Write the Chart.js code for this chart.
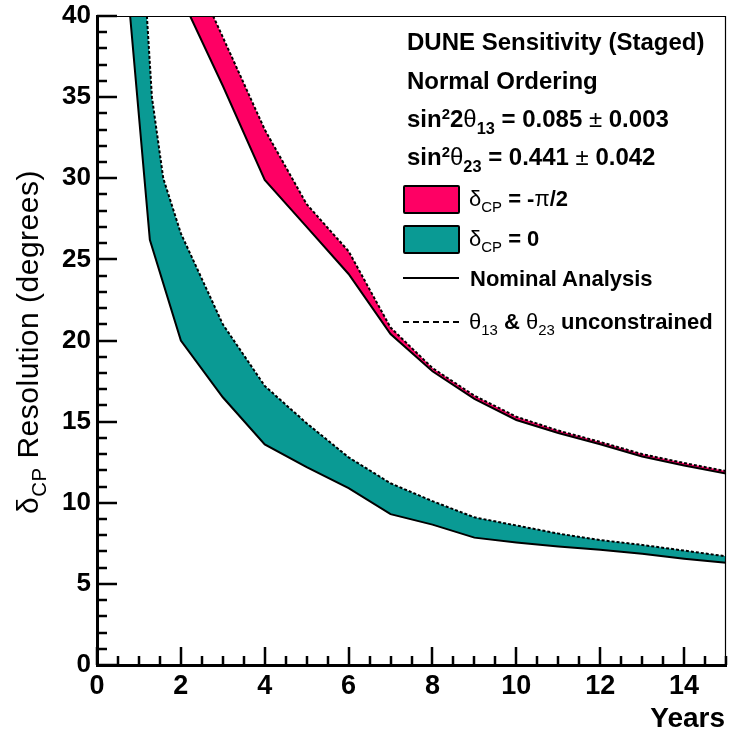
<!DOCTYPE html>
<html>
<head>
<meta charset="utf-8">
<script src="https://cdn.jsdelivr.net/npm/chart.js@4"></script>
<style>
  html, body { margin: 0; padding: 0; background: #fff; overflow: hidden; }
  #wrap { position: relative; width: 730px; height: 731px; font-family: 'Liberation Sans', Arial, sans-serif; color: #000; }
  canvas { position: absolute; left: 0; top: 0; }
  .t { position: absolute; white-space: nowrap; font-size: 24px; font-weight: bold; line-height: 28px; }
  .e { font-size: 22px; }
  .sym { font-weight: normal; }
  .sup { font-size: 0.62em; position: relative; top: -0.55em; }
  .sub { font-size: 0.68em; position: relative; top: 0.4em; }
  .box { position: absolute; border: 2.5px solid #000; border-radius: 2px; box-sizing: border-box; }
  .ln { position: absolute; height: 0; }
  #ytitle { position: absolute; left: -172px; top: 325px; width: 400px; height: 34px; line-height: 34px; text-align: center; font-size: 30px; letter-spacing: 0.5px; font-weight: normal; transform: rotate(-90deg); white-space: nowrap; }
  #xtitle { position: absolute; right: 5px; top: 702px; font-size: 28px; font-weight: bold; line-height: 32px; }
</style>
</head>
<body>
<div id="wrap">
  <canvas id="c" width="730" height="731"></canvas>
  <div id="ytitle"><span>δ</span><span class="sub">CP</span> Resolution (degrees)</div>
  <div id="xtitle">Years</div>
  <div class="t" style="left:407px; top:28px;">DUNE Sensitivity (Staged)</div>
  <div class="t" style="left:407px; top:67px;">Normal Ordering</div>
  <div class="t" style="left:407px; top:105px;">sin<span class="sup">2</span>2<span class="sym">θ</span><span class="sub">13</span> = 0.085 <span class="sym">±</span> 0.003</div>
  <div class="t" style="left:407px; top:143px;">sin<span class="sup">2</span><span class="sym">θ</span><span class="sub">23</span> = 0.441 <span class="sym">±</span> 0.042</div>
  <div class="box" style="left:403px; top:185px; width:57px; height:29px; background:#fe0064;"></div>
  <div class="t e" style="left:469px; top:185px;"><span class="sym">δ</span><span class="sub sym">CP</span> = -<span class="sym">π</span>/2</div>
  <div class="box" style="left:403px; top:225px; width:57px; height:29px; background:#0a9a94;"></div>
  <div class="t e" style="left:469px; top:225px;"><span class="sym">δ</span><span class="sub sym">CP</span> = 0</div>
  <div class="ln" style="left:403px; top:277px; width:56px; border-top:2px solid #000;"></div>
  <div class="t e" style="left:470px; top:265px;">Nominal Analysis</div>
  <div class="ln" style="left:403px; top:321px; width:56px; border-top:2px dashed #000;"></div>
  <div class="t e" style="left:469px; top:308px;"><span class="sym">θ</span><span class="sub sym">13</span> &amp; <span class="sym">θ</span><span class="sub sym">23</span> unconstrained</div>
</div>
<script>
// ---- Data (x in years, y in degrees) ----
const tealNomX = [0.79, 1.26, 2, 3, 4, 5, 6, 7, 8, 9, 10, 11, 12, 13, 14, 15];
const tealNomY = [40, 26.2, 20, 16.5, 13.6, 12.2, 10.9, 9.3, 8.65, 7.85, 7.55, 7.3, 7.1, 6.85, 6.55, 6.3];
const tealUncX = [1.19, 1.31, 1.58, 2, 3, 4, 5, 6, 7, 8, 9, 10, 11, 12, 13, 14, 15];
const tealUncY = [40, 35, 30, 26.6, 21.0, 17.2, 14.9, 12.8, 11.2, 10.1, 9.1, 8.6, 8.1, 7.7, 7.4, 7.05, 6.7];
const pinkNomX = [2.22, 3, 4, 5, 6, 7, 8, 9, 10, 11, 12, 13, 14, 15];
const pinkNomY = [40, 35.7, 29.9, 27.0, 24.1, 20.4, 18.1, 16.4, 15.1, 14.3, 13.6, 12.85, 12.3, 11.8];
const pinkUncX = [2.77, 3, 4, 5, 6, 7, 8, 9, 10, 11, 12, 13, 14, 15];
const pinkUncY = [40, 38.7, 33.0, 28.4, 25.5, 20.8, 18.3, 16.6, 15.3, 14.45, 13.75, 13.0, 12.45, 11.95];

const xTickLabels = [0, 2, 4, 6, 8, 10, 12, 14];
const yTickLabels = [0, 5, 10, 15, 20, 25, 30, 35, 40];
const xMinorStep = 0.5, yMinorStep = 1;
const xMin = 0, xMax = 15, yMin = 0, yMax = 40;

const TEAL = '#0a9a94';
const PINK = '#fe0064';

function pts(xs, ys) { return xs.map((x, i) => ({x: x, y: ys[i]})); }
function band(ax, ay, bx, by) { return pts(ax, ay).concat(pts(bx, by).reverse()); }

const FONT = "'Liberation Sans', Arial, sans-serif";

const frameTicks = {
  id: 'frameTicks',
  afterDraw(chart) {
    const {ctx, chartArea: a, scales: {x, y}} = chart;
    ctx.save();
    ctx.strokeStyle = '#000';
    ctx.lineWidth = 1.2;
    ctx.beginPath();
    ctx.moveTo(a.left, a.top + 0.5); ctx.lineTo(a.right, a.top + 0.5);
    ctx.moveTo(a.right - 0.5, a.top); ctx.lineTo(a.right - 0.5, a.bottom);
    ctx.stroke();
    ctx.lineWidth = 2.5;
    ctx.beginPath();
    for (let v = yMin; v <= yMax + 1e-9; v += yMinorStep) {
      const py = Math.round(y.getPixelForValue(v));
      const len = yTickLabels.includes(v) ? 20 : 10;
      ctx.moveTo(a.left, py); ctx.lineTo(a.left + len, py);
    }
    for (let v = xMin; v <= xMax + 1e-9; v += xMinorStep) {
      const px = Math.round(x.getPixelForValue(v));
      const len = xTickLabels.includes(v) ? 18 : 9;
      ctx.moveTo(px, a.bottom); ctx.lineTo(px, a.bottom - len);
    }
    ctx.stroke();
    ctx.restore();
  }
};

function zeroPad(s) { s.paddingTop = 0; s.paddingBottom = 0; s.paddingLeft = 0; s.paddingRight = 0; }

new Chart(document.getElementById('c'), {
  type: 'scatter',
  data: {
    datasets: [
      { label: 'tealBand', data: band(tealNomX, tealNomY, tealUncX, tealUncY), showLine: true, fill: 'shape',
        backgroundColor: TEAL, borderWidth: 0, borderColor: 'rgba(0,0,0,0)', pointRadius: 0, order: 10 },
      { label: 'pinkBand', data: band(pinkNomX, pinkNomY, pinkUncX, pinkUncY), showLine: true, fill: 'shape',
        backgroundColor: PINK, borderWidth: 0, borderColor: 'rgba(0,0,0,0)', pointRadius: 0, order: 10 },
      { label: 'tealNom', data: pts(tealNomX, tealNomY), showLine: true, fill: false, borderColor: '#000', borderWidth: 2, pointRadius: 0, order: 1 },
      { label: 'tealUnc', data: pts(tealUncX, tealUncY), showLine: true, fill: false, borderColor: '#000', borderWidth: 2, borderDash: [3, 2], pointRadius: 0, order: 1 },
      { label: 'pinkNom', data: pts(pinkNomX, pinkNomY), showLine: true, fill: false, borderColor: '#000', borderWidth: 2, pointRadius: 0, order: 1 },
      { label: 'pinkUnc', data: pts(pinkUncX, pinkUncY), showLine: true, fill: false, borderColor: '#000', borderWidth: 2, borderDash: [3, 2], pointRadius: 0, order: 1 }
    ]
  },
  options: {
    responsive: false,
    animation: false,
    events: [],
    layout: { padding: { top: 16, right: 4, left: 0, bottom: 0 } },
    plugins: { legend: { display: false }, tooltip: { enabled: false }, title: { display: false } },
    scales: {
      x: {
        type: 'linear', min: xMin, max: xMax,
        grid: { display: false, drawTicks: false },
        border: { display: true, color: '#000', width: 3 },
        ticks: { color: '#000', padding: 5, maxRotation: 0, autoSkip: false,
                 font: { family: FONT, size: 27, weight: 'bold' } },
        afterBuildTicks(s) { s.ticks = xTickLabels.map(v => ({value: v})); },
        afterFit(s) { s.height = 66; zeroPad(s); }
      },
      y: {
        type: 'linear', min: yMin, max: yMax,
        grid: { display: false, drawTicks: false },
        border: { display: true, color: '#000', width: 3 },
        ticks: { color: '#000', padding: 6, autoSkip: false,
                 font: { family: FONT, size: 26, weight: 'bold' } },
        afterBuildTicks(s) { s.ticks = yTickLabels.map(v => ({value: v})); },
        afterFit(s) { s.width = 97; zeroPad(s); }
      }
    }
  },
  plugins: [frameTicks]
});
</script>
</body>
</html>
